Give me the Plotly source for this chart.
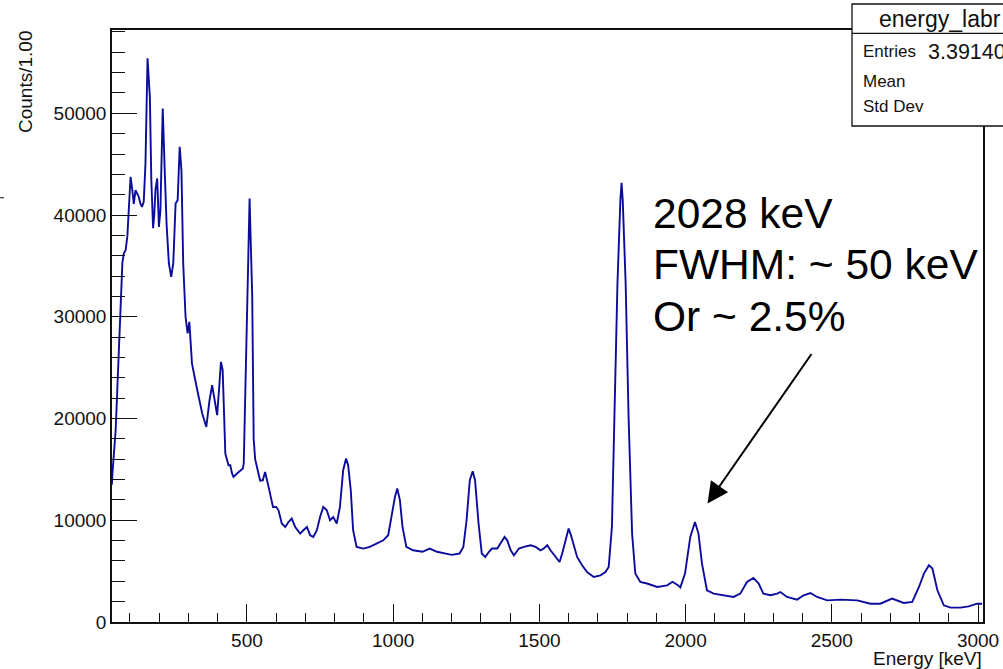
import plotly.graph_objects as go

# ---- data ----
energy_kev = [38, 40, 51, 63, 74, 79, 85, 91, 96, 102, 108, 113, 119, 125, 130, 136, 141, 147, 153,
              160, 168, 173, 179, 183, 187, 193, 199, 204, 212, 218, 225, 233, 241, 248, 256, 263,
              270, 276, 282, 290, 297, 303, 312, 330, 347, 361, 372, 381, 389, 398, 406, 411, 417,
              426, 437, 443, 449, 454, 466, 486, 489, 500, 509, 518, 523, 528, 534, 545, 554, 562,
              574, 589, 600, 608, 619, 631, 642, 653, 665, 682, 693, 705, 716, 727, 739, 750, 761,
              773, 784, 795, 807, 818, 829, 839, 846, 855, 863, 875, 898, 920, 943, 966, 983, 994,
              1006, 1014, 1023, 1032, 1045, 1068, 1100, 1125, 1150, 1200, 1227, 1240, 1251, 1262,
              1272, 1280, 1292, 1303, 1315, 1327, 1338, 1356, 1368, 1381, 1390, 1402, 1413, 1430,
              1447, 1470, 1487, 1504, 1515, 1527, 1538, 1555, 1569, 1578, 1589, 1600, 1608, 1618,
              1629, 1646, 1663, 1686, 1709, 1726, 1737, 1748, 1757, 1767, 1777, 1781, 1785, 1795,
              1805, 1817, 1828, 1845, 1868, 1903, 1937, 1955, 1975, 1982, 1998, 2016, 2032, 2044,
              2056, 2073, 2096, 2130, 2164, 2187, 2210, 2232, 2250, 2266, 2290, 2313, 2324, 2347,
              2381, 2404, 2427, 2450, 2484, 2530, 2587, 2632, 2666, 2706, 2746, 2775, 2798, 2815,
              2832, 2844, 2861, 2883, 2906, 2940, 2968, 2997, 3014]
counts = [13500, 14600, 18850, 28000, 35300, 36250, 36550, 37900, 40500, 43760, 42450, 41100, 42450,
          42100, 41800, 41100, 40800, 41300, 45070, 55400, 51600, 43400, 38700, 40000, 42450, 43600,
          38840, 40480, 50480, 45070, 39180, 35240, 33920, 35240, 41130, 41460, 46700, 44400, 35240,
          30000, 28360, 29500, 25400, 22800, 20500, 19170, 21800, 23270, 21800, 20330, 23440, 25570,
          24750, 16560, 15410, 15410, 14600, 14260, 14600, 15080, 15580, 31960, 41630, 32000, 18000,
          16000, 15240, 13900, 13930, 14750, 13280, 11310, 11310, 10980, 9680, 9340, 9830, 10170,
          9340, 8690, 9020, 9340, 8530, 8360, 9020, 10320, 11310, 10980, 10000, 10320, 9680, 11310,
          14920, 16070, 15410, 12950, 9020, 7380, 7220, 7380, 7710, 8030, 8530, 10320, 12290, 13120,
          11970, 9340, 7380, 7050, 6900, 7220, 6900, 6600, 6730, 7380, 10000, 13930, 14820, 13930,
          9680, 6730, 6390, 6880, 7220, 7220, 7710, 8360, 8030, 7050, 6560, 7220, 7380, 7540, 7380,
          7050, 7220, 7540, 7050, 6390, 5900, 6730, 8030, 9180, 8530, 7380, 6390, 5580, 4920, 4420,
          4590, 4920, 5410, 9340, 20160, 33270, 41470, 43170, 41470, 33270, 20160, 8690, 4760, 3930,
          3780, 3440, 3600, 3950, 3600, 3400, 4760, 8360, 9830, 8690, 5740, 3120, 2790, 2630, 2460,
          2790, 3930, 4330, 3780, 2790, 2630, 2790, 2950, 2460, 2200, 2630, 2850, 2460, 2130, 2200,
          2130, 1800, 1800, 2300, 1870, 1970, 3440, 4760, 5580, 5250, 3120, 1640, 1410, 1410, 1540,
          1800, 1800]

x_ticks = [500, 1000, 1500, 2000, 2500, 3000]
y_ticks = [0, 10000, 20000, 30000, 40000, 50000]
x_range = [38.5, 3017]
y_range = [0, 58190]

stats_title = "energy_labr"
stats_labels = ["Entries", "Mean", "Std Dev"]
stats_values = ["3.39140e+07", "", ""]
note_lines = ["2028 keV", "FWHM: ~ 50 keV", "Or ~ 2.5%"]
arrow_tip = (2075, 11650)

W, H = 1003, 669
L, R, T, B = 112, 20, 30, 47
PW, PH = W - L - R, H - T - B


def px(xp):
    return (xp - L) / PW


def py(yp):
    return (H - B - yp) / PH


FONT = "Liberation Sans, Arial, Helvetica, sans-serif"
BLUE = "#0c0c9c"

fig = go.Figure()
fig.add_trace(go.Scatter(x=energy_kev, y=counts, mode="lines",
                         line=dict(color=BLUE, width=1.9), hoverinfo="skip",
                         showlegend=False))

axis_common = dict(showgrid=False, zeroline=False, showline=True, mirror=True,
                   automargin=False,
                   linecolor="#111", linewidth=1.5, ticks="inside", tickcolor="#111",
                   tickwidth=1.3, tickfont=dict(family=FONT, size=19, color="#111"))

fig.update_xaxes(range=x_range, tickvals=x_ticks, ticktext=[str(v) for v in x_ticks],
                 ticklen=18,
                 minor=dict(dtick=100, tick0=0, ticks="inside", ticklen=9,
                            tickcolor="#111", tickwidth=1.3),
                 **axis_common)
fig.update_yaxes(range=y_range, tickvals=y_ticks, ticktext=[str(v) for v in y_ticks],
                 ticklen=25,
                 minor=dict(dtick=2000, tick0=0, ticks="inside", ticklen=13,
                            tickcolor="#111", tickwidth=1.3),
                 **axis_common)

shapes = []
# stats box
shapes.append(dict(type="rect", xref="paper", yref="paper", x0=px(852), x1=px(1015),
                   y0=py(126), y1=py(4), line=dict(color="#111", width=1.3),
                   fillcolor="white", layer="above"))
shapes.append(dict(type="line", xref="paper", yref="paper", x0=px(852), x1=px(1015),
                   y0=py(33.3), y1=py(33.3), line=dict(color="#111", width=1.3),
                   layer="above"))
# small stray dash at far left
shapes.append(dict(type="line", xref="paper", yref="paper", x0=px(0), x1=px(4),
                   y0=py(197.7), y1=py(197.7), line=dict(color="#333", width=1.2)))

annotations = []
annotations.append(dict(text="Counts/1.00", xref="paper", yref="paper", x=px(25), y=1.0,
                        xanchor="center", yanchor="top", textangle=-90, showarrow=False,
                        borderpad=0, font=dict(family=FONT, size=19, color="#111")))
annotations.append(dict(text="Energy [keV]", xref="paper", yref="paper", x=px(983), y=py(658),
                        xanchor="right", yanchor="middle", showarrow=False, borderpad=0,
                        font=dict(family=FONT, size=19, color="#111")))
annotations.append(dict(text=stats_title, xref="paper", yref="paper", x=px(877), y=py(18.5),
                        xanchor="left", yanchor="middle", showarrow=False,
                        font=dict(family=FONT, size=23, color="#111")))
row_y = [51.7, 81.2, 106.7]
for lab, val, yy in zip(stats_labels, stats_values, row_y):
    annotations.append(dict(text=lab, xref="paper", yref="paper", x=px(861), y=py(yy),
                            xanchor="left", yanchor="middle", showarrow=False,
                            font=dict(family=FONT, size=17, color="#111")))
    if val:
        annotations.append(dict(text=val, xref="paper", yref="paper", x=px(926), y=py(yy),
                                xanchor="left", yanchor="middle", showarrow=False,
                                font=dict(family=FONT, size=21.5, color="#111")))
note_y = [213, 264, 316]
for line, yy in zip(note_lines, note_y):
    annotations.append(dict(text=line, xref="paper", yref="paper", x=px(651), y=py(yy),
                            xanchor="left", yanchor="middle", showarrow=False,
                            font=dict(family=FONT, size=42.5, color="black")))
annotations.append(dict(text="", x=arrow_tip[0], y=arrow_tip[1], xref="x", yref="y",
                        ax=105, ay=-151, showarrow=True, arrowhead=2, arrowsize=2.1,
                        arrowwidth=2, arrowcolor="black", standoff=0))

fig.update_layout(width=W, height=H, margin=dict(l=L, r=R, t=T, b=B, autoexpand=False),
                  paper_bgcolor="white", plot_bgcolor="white",
                  shapes=shapes, annotations=annotations, showlegend=False)

fig.write_html("out.html")
